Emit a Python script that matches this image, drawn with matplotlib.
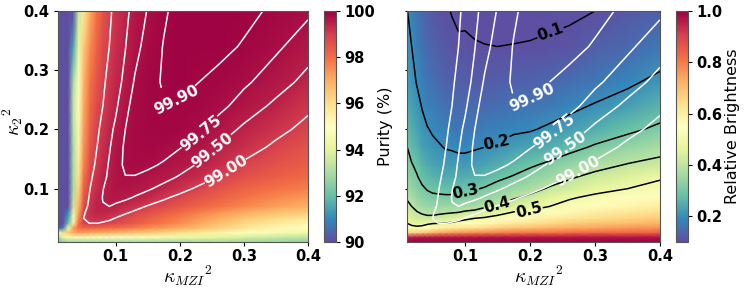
import numpy as np
import matplotlib
matplotlib.use("Agg")
import matplotlib.pyplot as plt
from matplotlib.cm import ScalarMappable
from matplotlib.colors import Normalize

kappa_mzi = [.01,.018,.026,.034,.042,.05,.06,.07,.08,.09,.10,.115,.13,.15,.175,.2,.23,.26,.3,.35,.4]
kappa_2 = [.01,.018,.026,.034,.042,.05,.06,.07,.085,.1,.12,.14,.17,.2,.24,.28,.34,.4]

# purity (%), one row per kappa_2 value
purity_rows = [
 [92,92.4,92.7,92.8,92.8,92.8,92.8,92.8,92.8,92.8,92.8,92.8,92.8,92.8,92.8,92.8,92.8,92.8,92.8,92.7,92.6],
 [93,94.2,94.8,95.2,95.2,95.2,95.1,95.1,95,95,95,94.9,94.9,94.8,94.6,94.4,94.2,94,93.8,93.5,93.3],
 [95,96,96.5,97,97.2,97.2,97.1,97,97,96.9,96.8,96.7,96.6,96.5,96.2,96,95.7,95.4,95,94.7,94.4],
 [85,91,94.5,97.3,98,98.2,98.2,98.2,98.1,98.05,98,97.9,97.7,97.5,97.3,97,96.7,96.3,95.8,95.3,94.9],
 [85,88,92,95.5,98,98.9,99.02,99.03,98.93,98.85,98.75,98.6,98.4,98.1,97.8,97.5,97.1,96.7,96.2,95.7,95.3],
 [85,87,91.5,94.8,97.6,99,99.15,99.24,99.22,99.12,98.97,98.75,98.55,98.3,98,97.7,97.35,97,96.55,96.1,95.8],
 [85,87,91,94.2,97.2,98.9,99.25,99.38,99.4,99.35,99.27,99.08,98.9,98.65,98.35,98.05,97.7,97.4,97,96.6,96.4],
 [85,87,90,93.5,96.8,98.6,99.2,99.42,99.49,99.5,99.43,99.32,99.18,98.95,98.7,98.47,98.17,97.9,97.55,97.2,96.9],
 [85,87,89,93.3,96.5,98.4,99.1,99.38,99.51,99.58,99.61,99.56,99.47,99.34,99.09,98.82,98.5,98.25,97.9,97.55,97.3],
 [85,86,88.5,93,96.2,98.2,99,99.28,99.49,99.59,99.66,99.68,99.63,99.54,99.39,99.2,98.87,98.55,98.2,97.9,97.7],
 [85,86,88.5,93,95.8,97.9,98.87,99.2,99.42,99.55,99.66,99.745,99.74,99.68,99.6,99.47,99.28,98.98,98.6,98.3,98.05],
 [85,86,88.5,93,95.6,97.6,98.7,99.1,99.35,99.53,99.67,99.78,99.81,99.79,99.72,99.62,99.46,99.28,98.9,98.55,98.3],
 [85,86,89,93,95.3,97.4,98.5,98.97,99.24,99.47,99.62,99.78,99.84,99.87,99.83,99.76,99.65,99.48,99.24,98.87,98.55],
 [85,86,89.5,93.2,95.2,97.2,98.3,98.87,99.15,99.4,99.56,99.75,99.835,99.875,99.885,99.85,99.79,99.65,99.43,99.16,98.8],
 [85,86,90,93.3,95,97,98.1,98.7,99,99.25,99.44,99.68,99.82,99.875,99.895,99.89,99.86,99.8,99.66,99.42,99.12],
 [85,87,89.5,93,95,96.8,97.9,98.5,98.9,99.15,99.37,99.57,99.77,99.86,99.91,99.925,99.9,99.85,99.78,99.63,99.38],
 [85,86,88,91.5,94.3,96.4,97.5,98.2,98.75,99,99.23,99.49,99.67,99.82,99.905,99.935,99.95,99.935,99.885,99.78,99.63],
 [85,85,86,90,93.5,95.7,97,97.9,98.5,98.9,99.15,99.4,99.62,99.76,99.885,99.93,99.955,99.96,99.935,99.865,99.78],
]

# relative brightness, one list per kappa_mzi value
brightness_cols = [
 [1,.95,.66,.56,.5,.47,.44,.42,.395,.37,.345,.325,.305,.275,.245,.23,.215,.205],
 [1,.96,.66,.53,.47,.44,.42,.4,.37,.345,.32,.305,.27,.25,.23,.215,.2,.18],
 [1,.97,.67,.52,.46,.43,.405,.375,.345,.325,.305,.285,.255,.235,.215,.197,.175,.16],
 [1,.97,.68,.53,.46,.425,.39,.36,.33,.31,.28,.26,.23,.215,.197,.18,.155,.14],
 [1,.97,.7,.55,.48,.42,.38,.35,.32,.295,.27,.245,.22,.203,.18,.165,.145,.13],
 [1,.97,.72,.57,.49,.42,.38,.345,.31,.29,.26,.235,.21,.195,.175,.155,.135,.12],
 [1,.97,.74,.59,.495,.43,.385,.35,.31,.285,.25,.23,.205,.185,.165,.145,.125,.11],
 [1,.97,.75,.6,.5,.44,.39,.35,.31,.28,.245,.225,.197,.18,.155,.135,.115,.105],
 [1,.97,.76,.61,.51,.45,.395,.355,.31,.28,.245,.22,.195,.17,.15,.13,.11,.098],
 [1,.97,.77,.62,.53,.46,.4,.36,.315,.28,.245,.22,.19,.165,.145,.125,.105,.093],
 [1,.97,.77,.63,.54,.48,.41,.365,.32,.29,.25,.22,.19,.165,.145,.125,.108,.09],
 [1,.97,.78,.64,.56,.5,.42,.37,.325,.295,.255,.225,.195,.167,.145,.122,.103,.088],
 [1,.97,.78,.65,.57,.51,.44,.39,.34,.305,.265,.235,.2,.175,.145,.122,.101,.087],
 [1,.97,.79,.67,.59,.53,.47,.41,.36,.325,.285,.25,.208,.18,.15,.125,.1,.087],
 [1,.97,.8,.69,.61,.56,.505,.45,.39,.35,.305,.27,.225,.19,.155,.13,.101,.088],
 [1,.97,.81,.7,.63,.58,.52,.47,.42,.37,.33,.29,.235,.195,.16,.135,.102,.09],
 [1,.97,.81,.72,.65,.6,.54,.5,.46,.41,.355,.315,.25,.21,.17,.14,.105,.092],
 [1,.97,.82,.73,.67,.62,.57,.53,.49,.43,.39,.345,.275,.225,.185,.15,.11,.093],
 [1,.97,.83,.74,.69,.64,.6,.56,.52,.47,.42,.375,.31,.25,.205,.165,.125,.1],
 [1,.97,.83,.76,.7,.66,.62,.58,.545,.5,.45,.405,.34,.285,.225,.19,.14,.115],
 [1,.97,.84,.77,.72,.68,.64,.6,.56,.525,.49,.425,.37,.315,.26,.215,.165,.13],
]

purity_levels = [99.0, 99.5, 99.75, 99.9]
brightness_levels = [0.1, 0.2, 0.3, 0.4, 0.5]
ticks = [0.1, 0.2, 0.3, 0.4]
purity_ticks = [90, 92, 94, 96, 98, 100]
brightness_ticks = [0.2, 0.4, 0.6, 0.8, 1.0]

X = np.array(kappa_mzi)
Y = np.array(kappa_2)
P = np.array(purity_rows)
B = np.array(brightness_cols).T
# purity contours are traced on the log of the deficit from 100 %
D = np.log(100 - P)
D_levels = sorted(np.log(100 - np.array(purity_levels)))

def purity_label(v):
    return f"{100 - np.exp(v):.2f}"

W, H = 747, 290
def box(x0, y0, x1, y1):
    return [x0 / W, 1 - y1 / H, (x1 - x0) / W, (y1 - y0) / H]

TICK = dict(fontsize=10.5, fontweight="bold")
plt.rcParams["mathtext.fontset"] = "cm"
fig = plt.figure(figsize=(7.47, 2.9), dpi=100)

ax1 = fig.add_axes(box(58, 11, 308, 242))
ax2 = fig.add_axes(box(406.5, 11, 660, 242))
cax1 = fig.add_axes(box(324, 11, 336, 242))
cax2 = fig.add_axes(box(675.5, 11, 687.5, 242))

norm1 = Normalize(90, 100)
norm2 = Normalize(0.1, 1.0)
ax1.pcolormesh(X, Y, P, cmap="Spectral_r", norm=norm1, shading="gouraud")
ax2.pcolormesh(X, Y, B, cmap="Spectral_r", norm=norm2, shading="gouraud")

def label(ax, cset, fmt, spots, angles):
    texts = ax.clabel(cset, fmt=fmt, fontsize=11, manual=spots, inline_spacing=2)
    for t, a in zip(texts, angles):
        t.set_fontweight("bold")
        t.set_rotation(a)

cs = ax1.contour(X, Y, D, levels=D_levels, colors="white", linewidths=1.1, linestyles="solid")
label(ax1, cs, purity_label, [(.271, .13), (.253, .163), (.233, .193), (.196, .257)], [32, 38, 39, 27])

cb = ax2.contour(X, Y, B, levels=brightness_levels, colors="black", linewidths=1.1)
label(ax2, cb, "%.1f", [(.232, .362), (.15, .175), (.1, .098), (.149, .075), (.198, .066)], [20, 12, 12, 15, 14])

cs2 = ax2.contour(X, Y, D, levels=D_levels, colors="white", linewidths=1.1, linestyles="solid")
label(ax2, cs2, purity_label, [(.27, .136), (.253, .171), (.233, .202), (.197, .26)], [29, 35, 38, 25])

for ax, xc in ((ax1, .52), (ax2, .524)):
    ax.set_xlim(.01, .4)
    ax.set_ylim(.01, .4)
    ax.set_xticks(ticks, [f"{v:.1f}" for v in ticks], **TICK)
    ax.set_xlabel(r"$\kappa_{MZI}{}^{2}$", fontsize=14, labelpad=0)
    ax.xaxis.label.set_x(xc)
    ax.tick_params(length=3, width=0.8, pad=2)
ax1.tick_params(axis="y", pad=3)
ax1.set_yticks(ticks, [f"{v:.1f}" for v in ticks], **TICK)
ax1.set_ylabel(r"$\kappa_{2}{}^{2}$", fontsize=14, labelpad=-1)
ax1.yaxis.label.set_y(.52)
ax2.set_yticks(ticks, [])
ax2.tick_params(axis="y", length=1.5)

c1 = fig.colorbar(ScalarMappable(norm1, "Spectral_r"), cax=cax1)
c1.set_ticks(purity_ticks, labels=[str(v) for v in purity_ticks], **TICK)
c1.set_label("Purity (%)", fontsize=11.5, labelpad=2)
c2 = fig.colorbar(ScalarMappable(norm2, "Spectral_r"), cax=cax2)
c2.set_ticks(brightness_ticks, labels=[f"{v:.1f}" for v in brightness_ticks], **TICK)
c2.set_label("Relative Brightness", fontsize=11.5, labelpad=2)
for c in (c1, c2):
    c.ax.tick_params(length=3, width=0.8, pad=3)
    c.outline.set_edgecolor("#555555")
for ax in (ax1, ax2):
    for s in ax.spines.values():
        s.set_edgecolor("#555555")

fig.savefig("out.png", dpi=100)
